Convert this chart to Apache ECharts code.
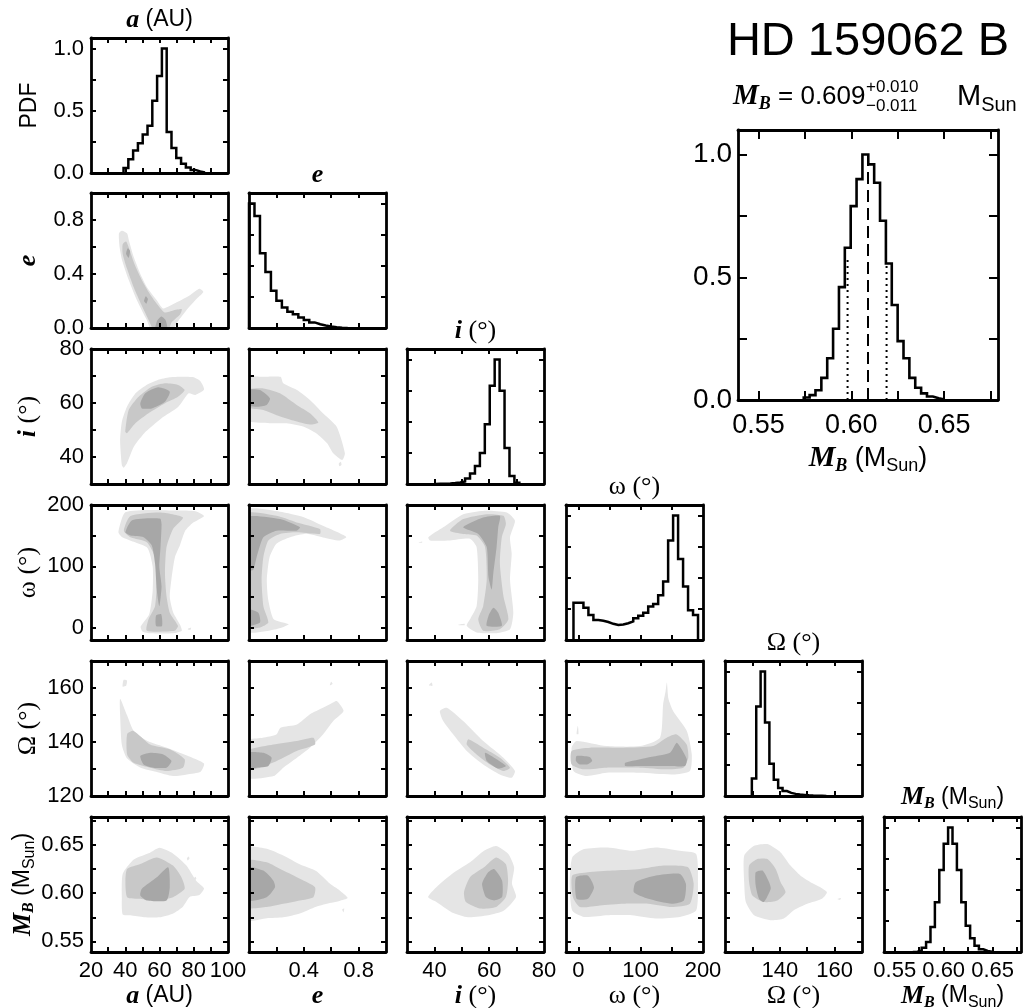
<!DOCTYPE html>
<html><head><meta charset="utf-8">
<script src="https://cdn.jsdelivr.net/npm/echarts@6/dist/echarts.min.js"></script>
<style>html,body{margin:0;padding:0;background:#fff}#c{width:1024px;height:1008px}</style>
</head><body><div id="c"></div>
<script>
// ---------------- axis ranges / ticks / labels ----------------
const aRange = [20, 100], aTicks = [30, 40, 50, 60, 70, 80, 90], aLabels = [20, 40, 60, 80, 100];
const eRange = [0, 1.0], eTicks = [0.2, 0.4, 0.6, 0.8], eLabelsX = [0.4, 0.8], eLabelsY = [0, 0.4, 0.8];
const iRange = [30, 80], iTicks = [40, 50, 60, 70], iLabels = [40, 60, 80];
const wRange = [-20, 200], wTicks = [0, 50, 100, 150], wLabels = [0, 100, 200];
const OmRange = [120, 170], OmTicks = [130, 140, 150, 160], OmLabelsX = [140, 160], OmLabelsY = [120, 140, 160];
const mRange = [0.539, 0.679], mTicks = [0.55, 0.575, 0.6, 0.625, 0.65, 0.675], mLabels = [0.55, 0.6, 0.65];
const pdfRange = [0, 1.085], bigPdfRange = [0, 1.1], pdfTicks = [0.25, 0.5, 0.75, 1.0], pdfLabels = [0, 0.5, 1.0];

// ---------------- 1-D histograms (first bin edge, bin width, normalised heights) ----------------
const aHistStart = 39.0, aHistWidth = 2.8;
const aHist = [0.04, 0.11, 0.18, 0.24, 0.31, 0.38, 0.58, 0.78, 1.00, 0.33, 0.20, 0.12, 0.075, 0.045, 0.025, 0.012, 0.005];
const eHistStart = 0, eHistWidth = 0.04;
const eHist = [1.00, 0.90, 0.60, 0.45, 0.30, 0.22, 0.165, 0.13, 0.11, 0.085, 0.065, 0.045, 0.03, 0.02, 0.012, 0.006, 0.003, 0.001];
const iHistStart = 40.4, iHistWidth = 1.8;
const iHist = [0.002, 0.003, 0.005, 0.008, 0.012, 0.02, 0.045, 0.085, 0.145, 0.25, 0.48, 0.79, 1.00, 0.75, 0.29, 0.065, 0.01];
const wHistStart = -8, wHistWidth = 8;
const wHist = [0.30, 0.30, 0.26, 0.20, 0.16, 0.155, 0.145, 0.13, 0.12, 0.125, 0.135, 0.15, 0.175, 0.195, 0.22, 0.27, 0.29, 0.36, 0.47, 0.80, 1.00, 0.65, 0.43, 0.24, 0.20];
const OmHistStart = 129.8, OmHistWidth = 1.6;
const OmHist = [0.14, 0.72, 1.00, 0.59, 0.26, 0.13, 0.065, 0.04, 0.025, 0.017, 0.012, 0.009, 0.006, 0.004, 0.003, 0.002, 0.001];
const mHistStart = 0.5685, mHistWidth = 0.0045;
const mHist = [0.003, 0.01, 0.035, 0.08, 0.20, 0.40, 0.66, 0.87, 1.00, 0.87, 0.66, 0.40, 0.21, 0.11, 0.05, 0.022, 0.008, 0.003];
const mBigStart = 0.5744, mBigWidth = 0.00316;
const mBigHist = [0.01, 0.02, 0.04, 0.09, 0.17, 0.29, 0.46, 0.62, 0.79, 0.90, 1.00, 0.96, 0.885, 0.73, 0.556, 0.387, 0.24, 0.17, 0.09, 0.05, 0.027, 0.014, 0.007, 0.002];

// mass summary
const mMedian = 0.609, mErrPlus = 0.010, mErrMinus = 0.011;
const mLo = 0.598, mHi = 0.619;
const markerTops = [0.58, 0.98, 0.555];   // dotted low, dashed median, dotted high

// ---------------- 2-D credible regions (outer / middle / inner), data units ----------------
const c_a_e = {
  light: [[[36.3,0.70],[38,0.72],[41.1,0.70],[42.1,0.65],[44.9,0.527],[48.8,0.40],[52.6,0.304],[58.4,0.206],[62.2,0.145],[70,0.19],[78,0.245],[83.3,0.29],[85.6,0.267],[82,0.22],[75.6,0.13],[69.9,0.034],[67.5,-0.02],[55.5,-0.02],[52.6,0.059],[46.8,0.206],[42.1,0.353],[38.2,0.50],[36.7,0.60]]],
  mid: [[[38.5,0.62],[40.5,0.64],[42.5,0.58],[45.5,0.47],[49.5,0.36],[54,0.26],[59,0.17],[63,0.115],[68,0.13],[73,0.14],[72,0.10],[67,0.04],[65,-0.02],[57,-0.02],[54,0.05],[49.5,0.17],[45,0.30],[41,0.44],[38.5,0.55]]],
  dark: [[[57.5,-0.02],[58.5,0.05],[61,0.085],[63.5,0.06],[64.5,0.01],[64,-0.02]], [[40.5,0.55],[41.5,0.59],[42.8,0.57],[42,0.52]], [[51,0.20],[52,0.235],[53.2,0.215],[52.3,0.18]]]
};
const c_a_i = {
  light: [[[38,37],[37,46],[38,53],[41,58.6],[46,63.6],[52,66.5],[59,68.5],[66,69.5],[73,69.7],[80,69.5],[84,68],[86,65],[81,63],[77,63.6],[71,58.6],[61,54.3],[52,49.4],[45,43.8],[41,37.7],[39,36]]],
  mid: [[[40,49.4],[42,57.4],[47.8,62.3],[55.5,66],[63.2,67.3],[70.8,66.7],[74.7,64.8],[70.8,62.3],[63.2,59.9],[53.6,56.2],[45.9,52.5],[41,48.8]]],
  dark: [[[48.8,59.9],[51.7,63.6],[59.3,65.8],[66,64.2],[63.2,60.5],[55.5,58],[49.7,58]]]
};
const c_a_w = {
  light: [[[36,156],[40,188],[55,192],[70,191],[81,190],[86,182],[79,170],[75,158],[72,135],[69,115],[67,80],[66,50],[68,25],[72,5],[73,-5],[68,-9],[55,-9],[50,-6],[49,2],[54,22],[56,60],[56,100],[53,130],[45,140],[38,148]],
          [[76.5,-3],[77,-1],[78.5,0],[78,-3.5]]],
  mid: [[[39.2,158],[43,182],[60.3,187.7],[73.7,179.6],[67.9,160.9],[64.1,131.4],[63.2,88.7],[64.1,51.3],[66,24.5],[70.8,3.1],[68.9,-4.9],[52.6,-4.9],[53.6,13.7],[57.4,35.1],[58.4,78],[57.4,115.4],[52.6,139.5],[43,147.5]]],
  dark: [[[40.1,155.5],[44,175.3],[60.3,178],[61.2,169],[60.6,131.4],[59.9,99.3],[61.2,67.2],[59.9,35.1],[58.4,62],[57.4,104.7],[55.5,134.2],[50.7,147.5],[43,150.2]],
         [[58,20],[61,22],[61.5,3],[58,3]]]
};
const c_a_Om = {
  light: [[[37,156],[41,150],[45,144],[53,140.4],[64,138],[76,135],[86,132],[84,129],[76,128],[68,127.4],[58,129],[49,130.5],[41,134],[38,139],[37,150]],
          [[38.5,160.5],[40.5,160.8],[41,162.8],[39,163]]],
  mid: [[[41.1,142.9],[44.9,144.1],[54.5,139.1],[66,137.3],[74.7,133.6],[73.7,130.5],[64.1,129.3],[54.5,130.5],[44.9,132.3],[41.1,135.4]]],
  dark: [[[48.8,134.8],[54.5,136],[62.2,135.4],[67,133],[64.1,130.5],[56.4,130.5],[50.7,131.7]]]
};
const c_a_m = {
  light: [[[38.5,0.578],[38,0.595],[38.5,0.62],[45,0.635],[54.5,0.642],[60,0.647],[68,0.641],[75.6,0.629],[81.4,0.613],[86,0.605],[83.3,0.598],[77.6,0.596],[73.7,0.586],[68,0.579],[60,0.575],[51,0.575],[43,0.577]],
          [[76,0.636],[77,0.638],[77.5,0.636],[76.5,0.634]], [[80,0.615],[81,0.617],[81.5,0.615],[80.5,0.613]]],
  mid: [[[40.1,0.6131],[41.1,0.6252],[48.8,0.6303],[58.4,0.6371],[67.9,0.6286],[72.8,0.6165],[74.7,0.6046],[67.9,0.5959],[58.4,0.5925],[48.8,0.5942],[41.1,0.5959]]],
  dark: [[[49.7,0.6046],[58.4,0.6165],[65.1,0.6269],[66,0.6062],[64.1,0.5925],[52.6,0.5925],[48.8,0.5977]]]
};
const c_e_i = {
  light: [[[-0.02,69.5],[0.1,69.7],[0.23,69.7],[0.25,67.3],[0.35,64.8],[0.445,61.1],[0.54,56.2],[0.64,51.2],[0.70,41.4],[0.68,38.9],[0.615,41.4],[0.57,45.1],[0.49,48.8],[0.4,51.2],[0.275,52.5],[0.15,52.5],[-0.02,53.7]],
          [[0.655,37.5],[0.67,38.2],[0.675,37],[0.66,36.6]]],
  mid: [[[-0.02,64.8],[0.105,65.4],[0.226,63.6],[0.348,59.3],[0.445,56.2],[0.506,52.8],[0.445,52],[0.324,53.5],[0.202,55.5],[0.105,57.4],[-0.02,58.6]]],
  dark: [[[-0.02,64.8],[0.08,64.8],[0.153,61.7],[0.129,59.3],[0.056,58.6],[-0.02,59.3]]]
};
const c_e_w = {
  light: [[[-0.02,191],[0.226,189],[0.4,180],[0.54,166],[0.71,148],[0.66,142],[0.54,147],[0.42,153],[0.3,147.5],[0.2,137],[0.15,115],[0.13,78],[0.14,46],[0.18,14],[0.29,5.6],[0.2,-2.4],[-0.02,-5]]],
  mid: [[[-0.02,185],[0.202,182.3],[0.348,171.6],[0.518,160.9],[0.518,152.9],[0.348,155.5],[0.226,152.9],[0.141,142.2],[0.105,115.4],[0.092,78],[0.105,35.1],[0.141,8.4],[0.08,0.4],[-0.02,0.4]]],
  dark: [[[-0.02,179.6],[0.226,177],[0.372,163.6],[0.348,158.2],[0.202,158.2],[0.105,147.5],[0.056,115.4],[0.03,94],[-0.02,94]],
         [[-0.02,29.8],[0.068,24.5],[0.08,8.4],[-0.02,3.1]]]
};
const c_e_Om = {
  light: [[[-0.02,140.4],[0.1,141.6],[0.2,142.8],[0.23,145.3],[0.35,146.5],[0.445,150.3],[0.54,152.7],[0.59,154],[0.64,155.2],[0.69,151.5],[0.615,147.8],[0.54,142.8],[0.445,137.9],[0.35,134.2],[0.25,130.5],[0.18,127.4],[-0.02,126.8]],
          [[0.59,161],[0.61,161.5],[0.6,162.3]]],
  mid: [[[-0.02,136.7],[0.177,139.1],[0.348,140.4],[0.47,141.6],[0.482,139.1],[0.348,136.7],[0.202,133],[0.08,130.5],[-0.02,129.9]]],
  dark: [[[-0.02,136],[0.105,136],[0.165,134.2],[0.141,131.1],[0.056,130.5],[-0.02,130.5]]]
};
const c_e_m = {
  light: [[[-0.02,0.647],[0.13,0.646],[0.25,0.639],[0.37,0.630],[0.49,0.623],[0.59,0.61],[0.66,0.603],[0.72,0.595],[0.66,0.592],[0.6,0.59],[0.49,0.586],[0.37,0.579],[0.25,0.575],[0.13,0.574],[-0.02,0.572]],
          [[0.68,0.583],[0.695,0.584],[0.69,0.58]]],
  mid: [[[-0.02,0.6337],[0.129,0.632],[0.25,0.6234],[0.372,0.6149],[0.482,0.6062],[0.47,0.5959],[0.372,0.5925],[0.25,0.589],[0.129,0.5856],[-0.02,0.5856]]],
  dark: [[[-0.02,0.6269],[0.105,0.6234],[0.177,0.6131],[0.19,0.6062],[0.129,0.5959],[-0.02,0.5925]]]
};
const c_i_w = {
  light: [[[37.8,147.5],[43.2,163.6],[50.5,185],[57.8,190.4],[66.4,187.7],[69.4,174.3],[67.6,147.5],[68.2,120.8],[67.6,78],[68.8,24.5],[67.6,-2.4],[62.7,-8.8],[55.4,-7.6],[51.8,3.1],[53,13.7],[55.4,35.1],[56,78],[55.4,131.4],[53,144.9],[45.7,142.2],[38.4,142.2]],
          [[34.2,139],[35.5,140.5],[35.5,138.5]], [[48.5,4.5],[51,6.5],[51,4]]],
  mid: [[[45.7,158.2],[50.5,177],[59.1,185],[65.2,182.3],[66.1,169],[64.6,147.5],[63.9,104.7],[65.2,51.3],[67,13.7],[63.9,-2.4],[57.8,-4.9],[56,13.7],[57.8,35.1],[59.1,78],[58.5,131.4],[55.4,150.2],[50.5,152.9]]],
  dark: [[[50.5,163.6],[57.8,179.6],[63.9,182.3],[63.3,163.6],[62.7,131.4],[61.5,88.7],[60.9,62],[59.7,83.3],[59.1,131.4],[56,152.9]],
         [[61.5,32.5],[63.3,24.5],[64.6,3.1],[59.1,3.1],[59.7,18.9]]]
};
const c_i_Om = {
  light: [[[42,151.5],[44.5,152.7],[50.5,147.8],[57.8,140.4],[65.2,134.2],[69.4,129.3],[68.2,126.8],[63.9,128],[57.8,131.7],[51.8,136.7],[46.9,142.8],[43.2,147.8]],
          [[38,161],[39,162],[39.3,160.8]]],
  mid: [[[52.4,141],[57.8,137.9],[63.9,134.2],[67.6,130.5],[65.2,129.3],[60.3,131.7],[55.4,135.4],[51.8,139.1]]],
  dark: [[[58.5,136],[62.7,133.6],[66.1,131.1],[63.3,130.2],[59.1,133]]]
};
const c_i_m = {
  light: [[[37.7,0.596],[40.6,0.606],[46.4,0.62],[53,0.632],[58.1,0.644],[62.5,0.649],[66.9,0.641],[69.1,0.627],[68.3,0.61],[69.8,0.596],[65.4,0.582],[59.6,0.577],[52.3,0.575],[46.4,0.58],[40.6,0.591]]],
  mid: [[[50.8,0.601],[53,0.6166],[58.1,0.6268],[62.5,0.637],[66.1,0.630],[66.9,0.6131],[66.1,0.596],[62.5,0.5856],[56.6,0.584],[51.5,0.5908]]],
  dark: [[[57.4,0.6097],[59.6,0.6217],[61.8,0.6251],[64.7,0.6131],[64.7,0.596],[61.8,0.5925],[58.8,0.596]]]
};
const c_w_Om = {
  light: [[[-11,137.9],[-3,140.4],[45,138.5],[99,138.5],[131,141.6],[136,154],[140,158.9],[142,162],[144.5,156],[152,151.5],[174,144.1],[182,135.4],[179,129.3],[152,128],[99,128.6],[45,128.6],[13,127.4],[-8,129.3]],
          [[-3,143],[-1,146],[0,143]]],
  mid: [[[-11,136.7],[18.5,137.9],[72,137.9],[120,138.5],[141.6,141.6],[157.6,142.8],[173.8,139.1],[176.4,134.2],[168.3,130.5],[141.6,129.9],[99,130.5],[45,130.5],[8,129.9],[-11,131.7]]],
  dark: [[[-3,134.8],[18,134.4],[22,133],[15,131.8],[2,131.7],[-4,133]],
         [[75,132.3],[110,134.2],[147,136],[158,139.7],[174,133.6],[171,131.1],[142,131.1],[99,131.1],[75,131.1]]]
};
const c_w_m = {
  light: [[[-10,0.637],[9,0.6457],[47,0.6474],[86,0.644],[124,0.6474],[163,0.644],[189,0.6406],[192,0.61],[189,0.582],[163,0.5753],[124,0.5737],[86,0.5771],[47,0.5771],[9,0.5753],[-10,0.582],[-14,0.61]]],
  mid: [[[-10,0.6183],[15,0.6217],[54,0.6234],[99,0.6251],[137,0.6286],[176,0.6269],[185,0.61],[179,0.589],[150,0.5856],[112,0.589],[73,0.589],[34.5,0.5873],[2.4,0.5856],[-9,0.596]]],
  dark: [[[-4,0.6165],[15,0.6183],[25,0.606],[15,0.5942],[-3,0.5942]],
         [[92,0.6114],[124.5,0.6183],[163,0.62],[172.6,0.6097],[169.4,0.5925],[150,0.589],[112,0.5942],[89,0.601]]]
};
const c_Om_m = {
  light: [[[127,0.6389],[130.6,0.6491],[135.5,0.6509],[140.3,0.6423],[143.9,0.6286],[147.5,0.6183],[151.2,0.6114],[154.8,0.6062],[157.2,0.601],[155.4,0.5942],[150,0.589],[145.1,0.5822],[141.5,0.5737],[136.7,0.572],[130.6,0.5771],[127.6,0.5908],[127,0.6114]],
          [[149.5,0.610],[150.5,0.611],[150.3,0.609]], [[161,0.594],[162.3,0.595],[162,0.593]]],
  mid: [[[128.8,0.6286],[131.8,0.6354],[135.5,0.6354],[138.5,0.6251],[140.3,0.6114],[142.1,0.601],[139.1,0.5925],[134.2,0.5908],[130,0.5977],[128.8,0.6114]]],
  dark: [[[131.2,0.6217],[133.7,0.6234],[136.1,0.6114],[136.7,0.6045],[134.2,0.5908],[132.4,0.5942],[131.2,0.6079]]]
};

// ---------------- presentation ----------------
const levelFill = ['#e5e5e5', '#c8c8c8', '#a7a7a7'];
const colLeft = [91, 249, 407, 566, 725, 884], rowTop = [38, 193, 349, 505, 661, 817];
const PW = 137, PH = 135;
const TICK_FS = 22, NAME_FS = 23;

function rich(fs, biScale, rScale) {
  const bs = Math.round(fs * (biScale || 1.12)), rs = Math.round(fs * (rScale || 1.15));
  const sub = Math.round(fs * 0.68), pad = Math.round(fs * 0.55);
  return {
    bi: {fontFamily: 'Liberation Serif', fontStyle: 'italic', fontWeight: 'bold', fontSize: bs, color: '#000', verticalAlign: 'middle'},
    bisub: {fontFamily: 'Liberation Serif', fontStyle: 'italic', fontWeight: 'bold', fontSize: sub, color: '#000', verticalAlign: 'top', padding: [pad, 0, 0, 0]},
    s: {fontFamily: 'Liberation Sans', fontSize: fs, color: '#000', verticalAlign: 'middle'},
    ssub: {fontFamily: 'Liberation Sans', fontSize: sub, color: '#000', verticalAlign: 'top', padding: [pad, 0, 0, 0]},
    r: {fontFamily: 'Liberation Serif', fontSize: rs, color: '#000', verticalAlign: 'middle'}
  };
}
function fmt(v, dec) { return dec > 0 ? Number(v).toFixed(dec) : String(Math.round(v)); }

const P = [
  {range: aRange, ticks: aTicks, lx: aLabels, ly: null, dec: 0, title: '{bi|a}{s| (AU)}', hist: [aHistStart, aHistWidth, aHist]},
  {range: eRange, ticks: eTicks, lx: eLabelsX, ly: eLabelsY, dec: 1, title: '{bi|e}', hist: [eHistStart, eHistWidth, eHist]},
  {range: iRange, ticks: iTicks, lx: iLabels, ly: iLabels, dec: 0, title: '{bi|i}{r| (°)}', hist: [iHistStart, iHistWidth, iHist]},
  {range: wRange, ticks: wTicks, lx: wLabels, ly: wLabels, dec: 0, title: '{r|ω (°)}', hist: [wHistStart, wHistWidth, wHist]},
  {range: OmRange, ticks: OmTicks, lx: OmLabelsX, ly: OmLabelsY, dec: 0, title: '{r|Ω (°)}', hist: [OmHistStart, OmHistWidth, OmHist]},
  {range: mRange, ticks: mTicks, lx: mLabels, ly: mLabels, dec: 2, title: '{bi|M}{bisub|B}{s| (M}{ssub|Sun}{s|)}', hist: [mHistStart, mHistWidth, mHist]}
];
const contours = {
  '1,0': c_a_e, '2,0': c_a_i, '3,0': c_a_w, '4,0': c_a_Om, '5,0': c_a_m,
  '2,1': c_e_i, '3,1': c_e_w, '4,1': c_e_Om, '5,1': c_e_m,
  '3,2': c_i_w, '4,2': c_i_Om, '5,2': c_i_m,
  '4,3': c_w_Om, '5,3': c_w_m,
  '5,4': c_Om_m
};

const grids = [], xAxis = [], yAxis = [], series = [];

function axis(g, pos, c, labels, name, gap, rotate) {
  const a = {
    gridIndex: g, type: 'value', position: pos, min: c.range[0], max: c.range[1], z: 10,
    axisLine: {show: true, onZero: false, lineStyle: {color: '#000', width: 2.8}},
    axisTick: {show: true, inside: true, length: c.tl, customValues: c.ticks, lineStyle: {color: '#000', width: 2}},
    axisLabel: {show: !!labels, customValues: labels || [], margin: c.margin, color: '#000',
      fontFamily: 'Liberation Sans', fontSize: c.fs, formatter: v => fmt(v, c.dec),
      showMinLabel: true, showMaxLabel: true, hideOverlap: false},
    splitLine: {show: false}, splitArea: {show: false}, minorTick: {show: false}
  };
  if (name) {
    a.name = name; a.nameLocation = 'middle'; a.nameGap = gap;
    if (rotate != null) a.nameRotate = rotate;
    a.nameTextStyle = {rich: c.nrich || rich(c.nfs)};
  }
  return a;
}
function panel(box, xc, yc) {
  const g = grids.length;
  grids.push({left: box[0], top: box[1], width: box[2], height: box[3], containLabel: false, outerBoundsMode: 'none'});
  xAxis.push(axis(g, 'bottom', xc, xc.labels, xc.name, xc.gap));
  xAxis.push(axis(g, 'top', xc, null, xc.topName, xc.topGap));
  yAxis.push(axis(g, 'left', yc, yc.labels, yc.name, yc.gap, 90));
  yAxis.push(axis(g, 'right', yc, null, null));
  return {xi: 2 * g, yi: 2 * g};
}
function stepPoints(start, width, heights) {
  const pts = [[start, 0]];
  heights.forEach((h, k) => { pts.push([start + k * width, h], [start + (k + 1) * width, h]); });
  pts.push([start + heights.length * width, 0]);
  return pts;
}
function histSeries(ax, start, width, heights, lw) {
  return {type: 'line', xAxisIndex: ax.xi, yAxisIndex: ax.yi, data: stepPoints(start, width, heights),
    symbol: 'none', showSymbol: false, lineStyle: {color: '#000', width: lw || 2.5, join: 'miter'}, z: 3, clip: true, silent: true};
}
function contourSeries(ax, panelPolys) {
  const polys = [];
  ['light', 'mid', 'dark'].forEach((k, lv) => (panelPolys[k] || []).forEach(pts => polys.push({lv, pts})));
  return {
    type: 'custom', coordinateSystem: 'cartesian2d', xAxisIndex: ax.xi, yAxisIndex: ax.yi, clip: true, silent: true, z: 1,
    data: polys.map(p => p.pts[0]),
    renderItem: (params, api) => {
      const p = polys[params.dataIndex];
      return {type: 'polygon', shape: {points: p.pts.map(q => api.coord(q)), smooth: 0.2},
        style: {fill: levelFill[p.lv], stroke: null}};
    }
  };
}
function markerLine(ax, x, top, dash) {
  return {type: 'line', xAxisIndex: ax.xi, yAxisIndex: ax.yi, data: [[x, 0], [x, top]], symbol: 'none',
    lineStyle: {color: '#000', width: 2, type: dash, cap: 'butt'}, z: 4, silent: true};
}

for (let r = 0; r < 6; r++) {
  for (let c = 0; c <= r; c++) {
    const px = P[c];
    const xc = {range: px.range, ticks: px.ticks, labels: r === 5 ? px.lx : null, dec: px.dec, fs: TICK_FS, tl: 5, margin: 8,
      name: r === 5 ? px.title : null, gap: 29, nfs: NAME_FS, topName: r === c ? px.title : null, topGap: 5};
    let yc;
    if (r === c) {
      yc = {range: pdfRange, ticks: pdfTicks, labels: c === 0 ? pdfLabels : null, dec: 1, fs: TICK_FS, tl: 5, margin: 7,
        name: c === 0 ? '{s|PDF}' : null, gap: 50, nfs: NAME_FS};
    } else {
      const py = P[r];
      yc = {range: py.range, ticks: py.ticks, labels: c === 0 ? py.ly : null, dec: py.dec, fs: TICK_FS, tl: 5, margin: 7,
        name: c === 0 ? py.title : null, gap: r === 5 ? 53 : 50, nfs: NAME_FS};
    }
    const ax = panel([colLeft[c], rowTop[r], PW, PH], xc, yc);
    if (r === c) series.push(histSeries(ax, px.hist[0], px.hist[1], px.hist[2]));
    else series.push(contourSeries(ax, contours[r + ',' + c]));
  }
}

// big mass panel
const bigAx = panel([738, 130, 260, 270],
  {range: mRange, ticks: mTicks, labels: mLabels, dec: 2, fs: 27, tl: 9, margin: 12,
    name: '{bi|M}{bisub|B}{s| (M}{ssub|Sun}{s|)}', gap: 42, nfs: 27, nrich: rich(27, 1.1), topName: null},
  {range: bigPdfRange, ticks: pdfTicks, labels: pdfLabels, dec: 1, fs: 28, tl: 9, margin: 6, name: null});
series.push(histSeries(bigAx, mBigStart, mBigWidth, mBigHist, 2.6));
series.push(markerLine(bigAx, mLo, markerTops[0], [2, 4]));
series.push(markerLine(bigAx, mMedian, markerTops[1], [12, 6]));
series.push(markerLine(bigAx, mHi, markerTops[2], [2, 4]));

const option = {
  animation: false,
  backgroundColor: '#fff',
  grid: grids, xAxis: xAxis, yAxis: yAxis, series: series,
  graphic: [
    {type: 'text', x: 868, y: 42, style: {text: 'HD 159062 B', font: '47px "Liberation Sans"', fill: '#000', textAlign: 'center', textVerticalAlign: 'middle'}},
    {type: 'text', x: 733, y: 97, style: {text: '{bi|M}{bisub|B}{s| = ' + mMedian.toFixed(3) + '}', rich: rich(26, 1.12), textAlign: 'left', textVerticalAlign: 'middle'}},
    {type: 'text', x: 866, y: 87, style: {text: '+' + mErrPlus.toFixed(3), font: '17px "Liberation Sans"', fill: '#000', textAlign: 'left', textVerticalAlign: 'middle'}},
    {type: 'text', x: 866, y: 106, style: {text: '\u2212' + mErrMinus.toFixed(3), font: '17px "Liberation Sans"', fill: '#000', textAlign: 'left', textVerticalAlign: 'middle'}},
    {type: 'text', x: 957, y: 97, style: {text: '{s|M}{ssub|Sun}', rich: rich(29), textAlign: 'left', textVerticalAlign: 'middle'}}
  ]
};
const chart = echarts.init(document.getElementById('c'), null, {renderer: 'canvas'});
chart.setOption(option);
</script></body></html>
